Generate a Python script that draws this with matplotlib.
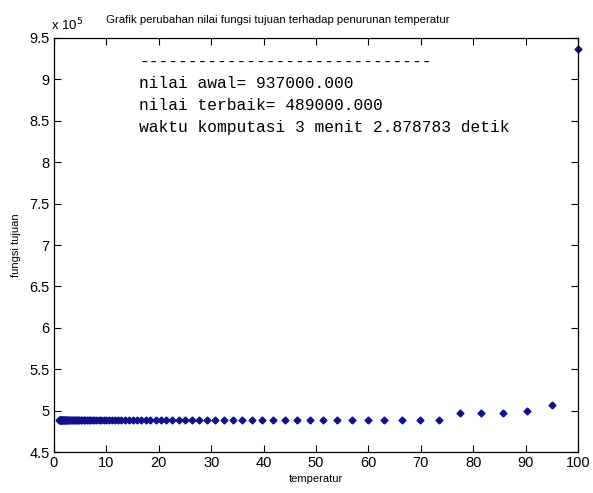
import matplotlib
matplotlib.use('Agg')
import matplotlib.pyplot as plt
from matplotlib.ticker import FuncFormatter

# data
temperatur = [100, 95, 90.25, 85.74, 81.45, 77.38, 73.51, 69.83, 66.34, 63.02,
              59.87, 56.88, 54.04, 51.33, 48.77, 46.33, 44.01, 41.81, 39.72, 37.74,
              35.85, 34.06, 32.35, 30.74, 29.20, 27.74, 26.35, 25.03, 23.78, 22.59,
              21.46, 20.39, 19.37, 18.40, 17.48, 16.61, 15.78, 14.99, 14.24, 13.53,
              12.85, 12.21, 11.60, 11.02, 10.47, 9.94, 9.45, 8.97, 8.53, 8.10,
              7.69, 7.31, 6.94, 6.60, 6.27, 5.95, 5.66, 5.37, 5.10, 4.85,
              4.61, 4.38, 4.16, 3.95, 3.75, 3.56, 3.39, 3.22, 3.06, 2.90,
              2.76, 2.62, 2.49, 2.36, 2.25, 2.13, 2.03, 1.93, 1.83, 1.74,
              1.65, 1.57, 1.49, 1.42, 1.35, 1.28, 1.21, 1.15, 1.10, 1.04]
fungsi = [937000, 507000, 499000, 497000, 497000, 497000] + [489000] * 84

info_lines = ['------------------------------',
              'nilai awal= 937000.000',
              'nilai terbaik= 489000.000',
              'waktu komputasi 3 menit 2.878783 detik']

plt.rcParams['font.family'] = ['Liberation Sans', 'DejaVu Sans']

fig = plt.figure(figsize=(5.93, 4.93), dpi=100)
ax = fig.add_axes([0.091, 0.083, 0.884, 0.840])

ax.plot(temperatur, fungsi, linestyle='none', marker='D', markersize=3.5,
        color='#10108f', clip_on=False)

ax.set_xlim(0, 100)
ax.set_ylim(450000, 950000)
ax.set_xticks(range(0, 101, 10))
ax.set_yticks([450000 + 50000 * i for i in range(11)])
ax.yaxis.set_major_formatter(FuncFormatter(lambda v, p: '%g' % (v / 1e5)))
ax.tick_params(direction='in', length=5, width=0.8, top=True, right=True,
               labelsize=10.5, pad=3)
for s in ax.spines.values():
    s.set_linewidth(0.9)

ax.text(-0.005, 1.012, r'x 10$^5$', transform=ax.transAxes, fontsize=9.5,
        ha='left', va='bottom')
ax.set_title('Grafik perubahan nilai fungsi tujuan terhadap penurunan temperatur',
             fontsize=8.2, x=0.427, pad=11)
ax.set_xlabel('temperatur', fontsize=8, labelpad=3)
ax.set_ylabel('fungsi tujuan', fontsize=8, labelpad=6)

for i, line in enumerate(info_lines):
    ax.text(16.2, 921000 - i * 26500, line, fontsize=11.7,
            family='Liberation Mono', va='center', ha='left')

fig.savefig('out.png', dpi=100)
